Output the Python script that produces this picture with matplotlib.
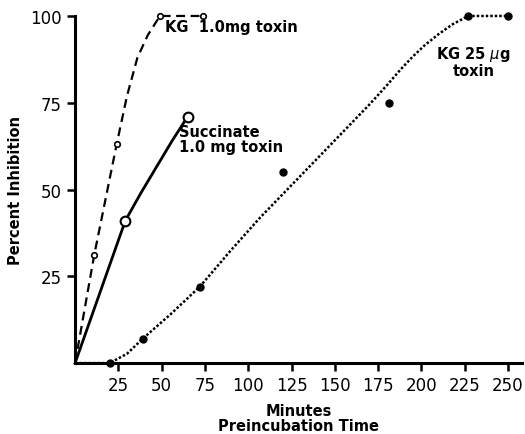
import numpy as np
import matplotlib.pyplot as plt

# Measured points
kg1_x = [11, 24, 49, 74]
kg1_y = [31, 63, 100, 100]
succ_x = [29, 65]
succ_y = [41, 71]
kg25_x = [20, 39, 72, 120, 181, 227, 250]
kg25_y = [0, 7, 22, 55, 75, 100, 100]

# Hand-drawn trend curves
kg1_cx = [0, 11, 24, 30, 36, 42, 49, 74]
kg1_cy = [0, 31, 63, 77, 88, 94.5, 100, 100]
succ_cx = [0, 29, 38, 47, 56, 65]
succ_cy = [0, 41, 49, 56.5, 64, 71]
kg25_cx = [0, 20, 30, 39, 55, 72, 90, 107, 140, 170, 180, 188, 195, 202, 210, 218, 227, 250]
kg25_cy = [0, 0, 2.7, 7, 14, 22, 32.5, 42, 59, 74.5, 80, 84.6, 88.3, 91.6, 94.8, 97.6, 100, 100]

xticks = [25, 50, 75, 100, 125, 150, 175, 200, 225, 250]
yticks = [25, 50, 75, 100]

plt.rcParams['font.family'] = 'DejaVu Sans'
fig = plt.figure(figsize=(5.25, 4.35), dpi=100)
ax = fig.add_axes([0.143, 0.163, 0.851, 0.798])

ax.plot(kg1_cx, kg1_cy, color='black', linestyle=(0, (4, 2.5)), linewidth=1.6, clip_on=False)
ax.plot(kg1_x, kg1_y, 'o', color='black', markerfacecolor='white', markersize=4,
        markeredgewidth=1.2, clip_on=False)

ax.plot(succ_cx, succ_cy, color='black', linestyle='-', linewidth=2, clip_on=False)
ax.plot(succ_x, succ_y, 'o', color='black', markerfacecolor='white', markersize=7,
        markeredgewidth=1.5, clip_on=False)

ax.plot(kg25_cx, kg25_cy, color='black', linestyle=(0, (1, 0.8)), linewidth=1.8, clip_on=False)
ax.plot(kg25_x, kg25_y, 'o', color='black', markersize=5, clip_on=False)

ax.text(52, 99, 'KG  1.0mg toxin', fontsize=10.5, fontweight='bold', va='top', ha='left')
ax.text(60, 64.5, 'Succinate\n1.0 mg toxin', fontsize=10.5, fontweight='bold', va='center', ha='left',
        linespacing=1.05)
ax.text(230, 87, 'KG 25 $\\mu$g\ntoxin', fontsize=10.5, fontweight='bold', va='center', ha='center',
        linespacing=0.95)

ax.set_xlim(0, 258)
ax.set_ylim(0, 100)
ax.set_xticks(xticks)
ax.set_yticks(yticks)
ax.tick_params(direction='out', length=6, width=1.8, labelsize=12)
for s in ['top', 'right']:
    ax.spines[s].set_visible(False)
for s in ['left', 'bottom']:
    ax.spines[s].set_linewidth(2.2)

ax.set_ylabel('Percent Inhibition', fontsize=10.5, fontweight='bold', labelpad=5)
ax.set_xlabel('Minutes\nPreincubation Time', fontsize=10.5, fontweight='bold', labelpad=6,
              linespacing=1.05)

fig.savefig('out.png', dpi=100)
